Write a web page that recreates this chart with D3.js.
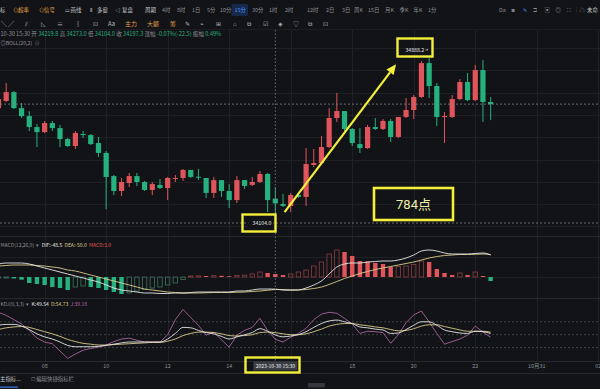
<!DOCTYPE html>
<html>
<head>
<meta charset="utf-8">
<script src="https://cdn.jsdelivr.net/npm/d3@7/dist/d3.min.js"></script>
<style>
  html, body { margin:0; padding:0; background:#121316; overflow:hidden; }
  svg { display:block; font-family:"Noto Sans CJK SC","Noto Sans",sans-serif; }
  text { white-space: pre; }
</style>
</head>
<body>
<div id="chart"></div>
<script>
// 15分钟K线 (10-30 06:30 起)
var opens  = [34650,34684,34726,34650,34612,34560,34536,34579,34555,34503,
              34470,34527,34522,34484,34437,34327,34256,34294,34327,34299,
              34261,34285,34270,34316,34318,34356,34324,34318,34247,34308,
              34256,34213,34308,34285,34299,34337,34219.8,34194,34185,34237,
              34228,34380,34389,34465,34603,34636,34551,34479,34460,34560,
              34551,34589,34513,34608,34641,34703,34864,34755,34608,34608,
              34693,34774,34688,34831,34679];
var highs  = [34703,34769,34731,34674,34636,34574,34589,34589,34570,34508,
              34541,34541,34527,34513,34446,34332,34318,34342,34342,34304,
              34299,34313,34323,34332,34361,34356,34361,34318,34323,34308,
              34289,34327,34308,34323,34351,34342,34273.0,34242,34247,34247,
              34460,34456,34517,34650,34722,34636,34555,34555,34570,34603,
              34598,34598,34608,34698,34712,34874,34888.2,34769,34631,34712,
              34788,34817,34855,34879,34703];
var lows   = [34641,34679,34646,34603,34541,34465,34532,34541,34465,34465,
              34456,34508,34475,34418,34170,34237,34232,34275,34280,34256,
              34237,34266,34213,34299,34304,34318,34308,34223,34223,34228,
              34175,34199,34266,34280,34294,34156,34104.0,34180,34156,34223,
              34185,34370,34380,34460,34584,34541,34470,34437,34456,34546,
              34546,34489,34508,34603,34598,34698,34698,34565,34484,34603,
              34688,34684,34684,34584,34593];
var closes = [34693,34726,34650,34612,34560,34536,34579,34555,34503,34470,
              34532,34522,34479,34437,34323,34256,34299,34327,34299,34261,
              34289,34270,34318,34318,34356,34323,34321,34247,34308,34256,
              34213,34308,34280,34299,34337,34213,34197.3,34185,34237,34228,
              34384,34389,34465,34603,34636,34551,34484,34460,34560,34551,
              34589,34513,34608,34641,34703,34864,34755,34608,34612,34693,
              34774,34688,34831,34679,34669];

// MACD(12,26,9)
var difs  = [52,56,56,56,52,44,36,28,20,12,
             4,-4,-12,-20,-32,-44,-52,-56,-60,-64,
             -64,-66,-66,-64,-64,-62,-60,-60,-60,-60,
             -60,-56,-56,-52,-48,-48,-48.5,-52,-53,-52,
             -44,-32,-16,12,40,52,56,56,60,62,
             64,64,68,76,88,104,108,104,96,92,
             92,92,94,96,88];
var deas  = [44,46,48,48,48,46,44,40,36,28,
             24,16,8,0,-8,-16,-24,-32,-40,-48,
             -52,-56,-60,-62,-64,-64,-64,-63,-62,-62,
             -62,-61,-60,-58,-56,-53,-50.0,-50.5,-51,-51.5,
             -50,-46,-40,-30,-18,-6,4,14,22,30,
             36,42,48,54,60,68,76,82,86,88,
             90,90,91,92,90];
var macds = [-1,-1,-1.5,-2.7,-6,-7,-8,-10,-11,-13,
             -10,-9,-10,-11,-13,-15,-17,-16,-14,-12.5,
             -11,-10,-8,-6,-2.5,1,1.2,1,1.3,1.2,
             0.8,1.5,1.8,3,5,4,3.0,2,3,5,
             7,11,15,23,27,25,21,16,15.5,14,
             13,10,10.5,11,12.5,16,15,8,4,2,
             4,2,5,1,-4];

// KDJ(9,3,3)
var kVals = [72,74,74,70,62,52,45,40,33,25,
             22,22,22,23,25,28,31,33,33,33,
             33,33,40,53,67,66,60,55,52,46,
             40,45,50,55,64,58,49.54,45,47,50,
             57,67,76,82,84,80,76,68,66,63,
             61,53,54,62,72,80,80,72,61,57,
             54,53,58,57,53];
var dVals = [62,66,68,69,67,62,57,52,46,39,
             34,30,28,26,26,27,28,29,30,31,
             32,32,35,40,48,53,56,56,55,52,
             48,47,48,50,55,56,54.73,52,50,50,
             52,57,63,70,74,76,76,73,71,68,
             66,62,59,60,64,70,73,73,69,65,
             61,58,58,58,56];
var jVals = [102,95,85,75,60,42,33,29,12,-5,
             5,14,18,21,26,34,40,42,37,33,
             33,33,50,85,109,90,72,49,56,38,
             21,49,60,67,88,60,39.18,33,44,53,
             65,85,98,102,100,88,75,53,58,57,
             55,30,50,78,96,105,80,53,28,34,
             40,49,70,56,44];

// x轴 (每8根 = 2小时)
var tickIdx    = [6,14,22,30,38,46,54,62,70,78];
var tickLabels = ["08","10","12","14","16","18","20","22","10月31","02"];

var crossIdx  = 36;
var crossTime = "2023-10-30 15:30";
var crossDate = "10-30 15:30";
var rangeText = "784点";

var width = 600, height = 389;
var upColor = "#e0555c", downColor = "#26b27f";
var gridColor = "#1e2025", gray = "#8c9099", yellow = "#f3ef3a";

var svg = d3.select("#chart").append("svg")
    .attr("width", width).attr("height", height);
svg.append("rect").attr("width", width).attr("height", height).attr("fill", "#121316");

var x     = d3.scaleLinear().domain([0, 78]).range([-1.5, 598.3]);
var y     = d3.scaleLinear().domain([34104, 34888.2]).range([223, 58]);
var yLine = d3.scaleLinear().domain([-100, 100]).range([302, 252]);
var yHist = d3.scaleLinear().domain([-30, 30]).range([307, 247]);
var yK    = d3.scaleLinear().domain([0, 100]).range([356.2, 313.2]);

var idx = d3.range(opens.length);

function clip(id, y0, y1) {
  svg.append("clipPath").attr("id", id).append("rect")
    .attr("x", 0).attr("y", y0).attr("width", width).attr("height", y1 - y0);
}
clip("cMain", 30, 236);
clip("cMacd", 237, 298);
clip("cKdj", 299, 361);

// ---- grid
var grid = svg.append("g");
grid.selectAll(".vg").data(tickIdx).join("line")
  .attr("x1", d => Math.round(x(d)) + 0.5).attr("x2", d => Math.round(x(d)) + 0.5)
  .attr("y1", 30).attr("y2", 361)
  .attr("stroke", gridColor);
grid.selectAll(".hg").data(d3.range(9)).join("line")
  .attr("x1", 0).attr("x2", width)
  .attr("y1", d => Math.round(48 + d * 22.3) + 0.5).attr("y2", d => Math.round(48 + d * 22.3) + 0.5)
  .attr("stroke", gridColor);
[257.5, 277.5].forEach(function(v) {
  grid.append("line").attr("x1", 0).attr("x2", width).attr("y1", v).attr("y2", v).attr("stroke", gridColor);
});
[236.5, 298.5, 361.5, 373.5].forEach(function(v) {
  grid.append("line").attr("x1", 0).attr("x2", width).attr("y1", v).attr("y2", v).attr("stroke", "#26282d");
});
grid.append("line").attr("x1", 0).attr("x2", width).attr("y1", 29.5).attr("y2", 29.5).attr("stroke", "#1b1d21");

// ---- toolbar
var bar = svg.append("g").attr("font-size", 5.4);
var topItems = [["标",0,"#c8cbd0"],["⊙",13,"#e3a14b"],["超率",18,"#e3a14b"],["⊙",39,"#e3a14b"],["信号",44,"#e3a14b"],
  ["▭",64.5,"#c8cbd0"],["画线",70.5,"#c8cbd0"],["⦀",90,"#c8cbd0"],["多窗",97,"#c8cbd0"],["◁",115,"#c8cbd0"],["复盘",122,"#c8cbd0"],
  ["周期",145,"#c8cbd0"]];
var periods = [["4时",162],["8时",177],["1日",192],["5分",207],["10分",220],["15分",234.5],["30分",252],["1时",269],["2时",285],
  ["12时",307],["2日",326],["3日",342],["周K",354],["15日",368],["月K",385],["季K",399.5],["年K",413.5],["1分",428]];
bar.append("rect").attr("x", 231.5).attr("y", 4).attr("width", 16.5).attr("height", 12).attr("rx", 1.5).attr("fill", "#17294a");
topItems.forEach(function(d) {
  bar.append("text").attr("x", d[1]).attr("y", 12).attr("fill", d[2]).text(d[0]);
});
periods.forEach(function(d) {
  bar.append("text").attr("x", d[1]).attr("y", 12).attr("fill", d[0] == "15分" ? "#4f8ff7" : gray).text(d[0]);
});
[["Da",499,gray],["◙",511.5,gray],["✎",522.5,"#4f8ff7"],["⊐",533,gray],["▣",544.5,gray],["◎",555.5,gray],["⛶",566.5,gray],
 ["|",576,"#3a3d43"],["☁",579.5,gray],["未命",587,"#c8cbd0"]].forEach(function(d) {
  bar.append("text").attr("x", d[1]).attr("y", 12).attr("fill", d[2]).text(d[0]);
});
[["╲",1],["╱",8],["⫽",25],["◺",41],["≡",57],["⌇",75],["⊡",93],["Aa",108],["主力",125,"#e3a14b"],["大额",147,"#e3a14b"],
 ["筹",170,"#e3a14b"],["✎",185],["⌁",200],["⊞",216],["⌂",233],["⧉",247],["☑",263],["◈",278],["▽",293],["⧉",308],["⊡",323]]
.forEach(function(d) {
  bar.append("text").attr("x", d[1]).attr("y", 26).attr("font-size", 6).attr("fill", d[2] || "#b4b8bf").text(d[0]);
});

// ---- info row
function parts(g, px, py, size, list) {
  var t = g.append("text").attr("x", px).attr("y", py).attr("font-size", size);
  list.forEach(function(p) { t.append("tspan").attr("fill", p[1]).text(p[0]); });
  return t;
}
var co = opens[crossIdx], ch = highs[crossIdx], cl = lows[crossIdx], cc = closes[crossIdx];
var chg = cc - co;
var valColor = chg < 0 ? downColor : upColor;
parts(svg, 0.5, 36, 5.6, [
  [crossDate + " 开 ", gray], [co.toFixed(1), valColor],
  [" 高 ", gray], [ch.toFixed(1), valColor],
  [" 低 ", gray], [cl.toFixed(1), valColor],
  [" 收 ", gray], [cc.toFixed(1), valColor],
  [" 涨幅 ", gray], [(chg / co * 100).toFixed(2) + "%(" + chg.toFixed(1) + ")", valColor],
  [" 振幅 ", gray], [((ch - cl) / co * 100).toFixed(2) + "%", valColor]
]);
parts(svg, 0.5, 45, 5.2, [["◎BOLL(20,2)  ", gray], ["⊘", "#6b6f77"]]);

// ---- candles
var main = svg.append("g").attr("clip-path", "url(#cMain)");
function col(i) { return closes[i] >= opens[i] ? upColor : downColor; }
main.selectAll(".wick").data(idx).join("line")
  .attr("x1", i => x(i)).attr("x2", i => x(i))
  .attr("y1", i => y(highs[i])).attr("y2", i => y(lows[i]))
  .attr("stroke", col).attr("stroke-width", 1);
main.selectAll(".body").data(idx).join("rect")
  .attr("x", i => x(i) - 2.6).attr("width", 5.2)
  .attr("y", i => y(Math.max(opens[i], closes[i])))
  .attr("height", i => Math.max(1, Math.abs(y(opens[i]) - y(closes[i]))))
  .attr("fill", col);

// price lines
var last = closes[closes.length - 1];
var lowVal = d3.min(lows), lowIdx = lows.indexOf(lowVal);
var highVal = d3.max(highs), highIdx = highs.indexOf(highVal);
[last, lowVal].forEach(function(v) {
  main.append("line").attr("x1", 0).attr("x2", width)
    .attr("y1", y(v)).attr("y2", y(v))
    .attr("stroke", "#7d828a").attr("stroke-width", 0.8).attr("stroke-dasharray", "2,2");
});

// high / low labels
main.append("rect").attr("x", x(lowIdx) - 27).attr("y", y(lowVal) - 4).attr("width", 25).attr("height", 8).attr("fill", "#121316");
main.append("text").attr("x", x(lowIdx) - 4).attr("y", y(lowVal) + 2).attr("text-anchor", "end")
  .attr("font-size", 5.2).attr("fill", "#e6e7ea").text(lowVal.toFixed(1));
main.append("text").attr("x", x(highIdx) - 5).attr("y", y(highVal) - 6.5).attr("text-anchor", "end")
  .attr("font-size", 5.2).attr("fill", "#e6e7ea").text(highVal.toFixed(1));
main.append("path").attr("d", "M" + (x(highIdx) - 3.5) + "," + (y(highVal) - 8) + "h2v-1")
  .attr("stroke", "#e6e7ea").attr("stroke-width", 0.7).attr("fill", "none");

// ---- MACD
var macd = svg.append("g").attr("clip-path", "url(#cMacd)");
function histFill(i) {
  return i > 0 && macds[i] < macds[i - 1];
}
macd.selectAll(".hb").data(idx).join("rect")
  .attr("x", i => x(i) - 2.2).attr("width", 4.4)
  .attr("y", i => yHist(Math.max(0, macds[i])))
  .attr("height", i => Math.max(0.8, Math.abs(yHist(macds[i]) - yHist(0))))
  .attr("fill", i => histFill(i) ? (macds[i] >= 0 ? upColor : downColor) : "none")
  .attr("stroke", i => histFill(i) ? "none" : (macds[i] >= 0 ? "#8c3f45" : "#3f7560"))
  .attr("stroke-width", 0.8);
var lineD = d3.line().x(i => x(i)).curve(d3.curveMonotoneX);
macd.append("path").attr("d", lineD.y(i => yLine(deas[i]))(idx))
  .attr("fill", "none").attr("stroke", "#d9cc8c").attr("stroke-width", 0.9);
macd.append("path").attr("d", lineD.y(i => yLine(difs[i]))(idx))
  .attr("fill", "none").attr("stroke", "#e8e8e8").attr("stroke-width", 0.9);
parts(svg, 0.5, 247, 5, [["MACD(12,26,9)  ▾  ", gray], ["DIF:" + difs[crossIdx].toFixed(1) + "  ", "#e8e8e8"],
  ["DEA:" + deas[crossIdx].toFixed(1) + "  ", "#d9cc8c"], ["MACD:" + macds[crossIdx].toFixed(1), upColor]]);

// ---- KDJ
var kdj = svg.append("g").attr("clip-path", "url(#cKdj)");
[80, 50, 20].forEach(function(v) {
  kdj.append("line").attr("x1", 0).attr("x2", width).attr("y1", yK(v)).attr("y2", yK(v))
    .attr("stroke", "#4a4d54").attr("stroke-width", 0.8).attr("stroke-dasharray", "2,2");
});
kdj.append("path").attr("d", d3.line().x(i => x(i)).y(i => yK(jVals[i]))(idx))
  .attr("fill", "none").attr("stroke", "#b96fb0").attr("stroke-width", 0.8);
kdj.append("path").attr("d", d3.line().x(i => x(i)).y(i => yK(dVals[i])).curve(d3.curveMonotoneX)(idx))
  .attr("fill", "none").attr("stroke", "#d9cc8c").attr("stroke-width", 0.9);
kdj.append("path").attr("d", d3.line().x(i => x(i)).y(i => yK(kVals[i])).curve(d3.curveMonotoneX)(idx))
  .attr("fill", "none").attr("stroke", "#e8e8e8").attr("stroke-width", 0.9);
parts(svg, 0.5, 306, 5, [["KDJ(9,3,3)  ▾  ", gray], ["K:" + kVals[crossIdx].toFixed(2) + "  ", "#e8e8e8"],
  ["D:" + dVals[crossIdx].toFixed(2) + "  ", "#d9cc8c"], ["J:" + jVals[crossIdx].toFixed(2), "#b96fb0"]]);

// ---- x axis (labels under the crosshair tag are hidden, as in the app)
var xAxis = svg.append("g").attr("font-size", 5.4).attr("fill", gray).attr("text-anchor", "middle");
xAxis.selectAll("text").data(tickIdx.filter(d => Math.abs(x(d) - x(crossIdx)) > 26)).join("text")
  .attr("x", d => x(d)).attr("y", 368)
  .text(d => tickLabels[tickIdx.indexOf(d)]);

// ---- crosshair
svg.append("line").attr("x1", x(crossIdx)).attr("x2", x(crossIdx)).attr("y1", 30).attr("y2", 361)
  .attr("stroke", "#8c9099").attr("stroke-width", 0.7).attr("stroke-dasharray", "1.5,2");
svg.append("rect").attr("x", x(crossIdx) - 22).attr("y", 361.5).attr("width", 44).attr("height", 9).attr("fill", "#3a3d44");
svg.append("text").attr("x", x(crossIdx)).attr("y", 368).attr("text-anchor", "middle")
  .attr("font-size", 5).attr("fill", "#f0f0f0").text(crossTime);

// ---- bottom bar
svg.append("text").attr("x", 0).attr("y", 381).attr("font-size", 5.4).attr("fill", "#c8cbd0").text("主指标...");
svg.append("text").attr("x", 31).attr("y", 381).attr("font-size", 5.4).attr("fill", gray).text("☐ 编辑快捷指标栏");
svg.append("rect").attr("x", 0).attr("y", 386.5).attr("width", 18).attr("height", 1.2).attr("fill", "#3d7cf0");
svg.append("rect").attr("x", 308).attr("y", 383).attr("width", 17).attr("height", 4.5).attr("rx", 1).attr("fill", "#34373e");

// ---- annotations
var ann = svg.append("g").attr("fill", "none").attr("stroke", yellow);
ann.append("rect").attr("x", 397.5).attr("y", 38.5).attr("width", 35).attr("height", 18).attr("stroke-width", 2.4);
ann.append("rect").attr("x", 242.5).attr("y", 214.5).attr("width", 33).attr("height", 17).attr("stroke-width", 2.4);
ann.append("rect").attr("x", 374).attr("y", 188).attr("width", 79).attr("height", 32).attr("stroke-width", 2.6);
ann.append("rect").attr("x", 245.5).attr("y", 357.5).attr("width", 54).attr("height", 15).attr("stroke-width", 2.4);

var a0 = [x(37.2), y(34156)], a1 = [x(51.7), y(34858)];
var ang = Math.atan2(a1[1] - a0[1], a1[0] - a0[0]);
var back = [a1[0] - 10 * Math.cos(ang), a1[1] - 10 * Math.sin(ang)];
ann.append("line").attr("x1", a0[0]).attr("y1", a0[1]).attr("x2", back[0]).attr("y2", back[1]).attr("stroke-width", 2.2);
ann.append("path")
  .attr("d", "M" + a1[0] + "," + a1[1] +
    "L" + (back[0] + 4.5 * Math.sin(ang)) + "," + (back[1] - 4.5 * Math.cos(ang)) +
    "L" + (back[0] - 4.5 * Math.sin(ang)) + "," + (back[1] + 4.5 * Math.cos(ang)) + "Z")
  .attr("fill", yellow).attr("stroke", "none");

svg.append("text").attr("x", 413.5).attr("y", 209).attr("text-anchor", "middle")
  .attr("font-size", 13).attr("font-family", "Roboto, 'Noto Sans CJK SC', sans-serif")
  .attr("fill", "#f2eea6").text(rangeText);
</script>
</body>
</html>
